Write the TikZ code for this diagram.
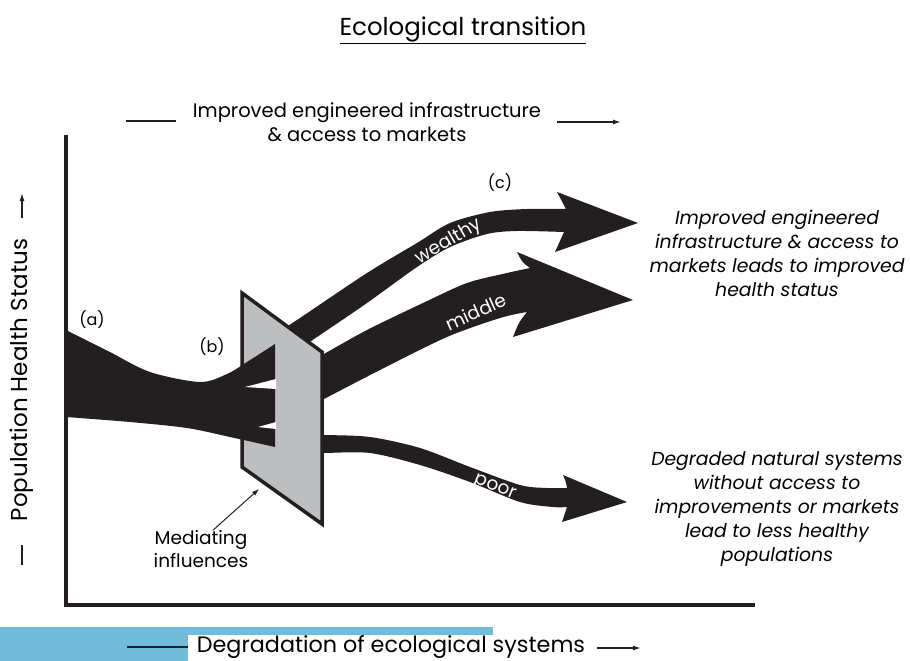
\documentclass[tikz,border=0pt]{standalone}
\usepackage{fontspec}
\setmainfont{Poppins}
\usetikzlibrary{arrows.meta}
\definecolor{flowblack}{HTML}{231F20}
\definecolor{panelgray}{HTML}{BCBEC0}
\definecolor{barblue}{HTML}{72BCDB}
\begin{document}
\begin{tikzpicture}[x=1pt,y=-1pt,
  flow/.style={fill=flowblack},
  axisline/.style={draw=flowblack,line width=3.5pt,line join=miter},
  tickline/.style={draw=flowblack,line width=1.4pt},
  axisarrow/.style={draw=flowblack,line width=1.4pt,-{Latex[length=8pt,width=5pt]}},
  flowlabel/.style={text=white,font=\fontsize{18.5}{18.5}\selectfont,inner sep=0pt},
  axislabel/.style={font=\fontsize{19.5}{24}\selectfont,align=center,inner sep=0pt},
  sidenote/.style={font=\fontsize{18.8}{24}\selectfont\itshape,align=center,inner sep=0pt},
  tag/.style={font=\fontsize{16}{16}\selectfont,inner sep=0pt}]
  \useasboundingbox (0,0) rectangle (910,661);

  % bottom colour bar
  \fill[barblue] (0,627) rectangle (493,661);
  \fill[white] (188,635) rectangle (493,661);

  % flows leaving the panel (drawn first, the panel hides their start)
  \fill[flow] plot[smooth] coordinates {(280,331) (300,318) (367,273) (417,243) (450,223) (490,212) (527,209) (566,209)}
    .. controls (562,201) .. (557,192) -- (638,223) -- (555,252) .. controls (560,242) .. (564,232)
    -- plot[smooth] coordinates {(564,232) (517,231) (487,234) (450,247) (417,267) (367,303) (320,335) (280,362)} -- cycle;
  \fill[flow] plot[smooth] coordinates {(300,366) (322,355) (367,330) (423,303) (467,283) (507,273) (530,268)}
    .. controls (522,262) .. (517,252) -- (633,300) -- (513,337) .. controls (519,322) .. (527,312)
    -- plot[smooth] coordinates {(527,312) (500,318) (447,337) (380,370) (322,400) (300,411)} -- cycle;
  \fill[flow] plot[smooth] coordinates {(300,435) (323,435) (370,437) (420,448) (470,467) (520,485) (547,488) (567,488)}
    .. controls (566,482) .. (563,475) -- (627,502) -- (562,522) .. controls (565,515) .. (567,507)
    -- plot[smooth] coordinates {(567,507) (553,507) (520,502) (470,482) (420,465) (370,453) (323,453) (300,453)} -- cycle;

  % mediating panel
  \coordinate (pTL) at (242,293);
  \coordinate (pTR) at (322,352);
  \coordinate (pBR) at (322,524);
  \coordinate (pBL) at (242,467);
  \filldraw[fill=panelgray,axisline] (pTL) -- (pTR) -- (pBR) -- (pBL) -- cycle;

  % incoming flow
  \fill[flow] plot[smooth] coordinates {(66,330) (108,351) (150,372) (200,382) (227,374) (247,362) (275,344)}
    -- plot[smooth] coordinates {(275,447) (230,437) (187,428) (130,422) (66,417)} -- cycle;
  \fill[white] (245,387) -- (276,379) -- (276,389) -- cycle;
  \fill[white] (258,427) -- (276,422) -- (276,429) -- cycle;

  % axes
  \coordinate (ytop) at (66,135);
  \coordinate (origin) at (66,605);
  \coordinate (xend) at (755,605);
  \draw[axisline] (ytop) -- (origin) -- (xend);

  % title and axis labels
  \node[font=\fontsize{24.5}{24.5}\selectfont,inner sep=0pt] (title) at (463,30) {\underline{Ecological transition}};
  \node[axislabel] (infra) at (367,122) {Improved engineered infrastructure\\\& access to markets};
  \coordinate (infraL1) at (126,121);
  \coordinate (infraL2) at (176,121);
  \coordinate (infraA1) at (557,122);
  \coordinate (infraA2) at (621,122);
  \draw[tickline] (infraL1) -- (infraL2);
  \draw[axisarrow] (infraA1) -- (infraA2);

  \node[font=\fontsize{23}{23}\selectfont,inner sep=0pt,rotate=90] (health) at (22,380) {Population Health Status};
  \coordinate (healthA1) at (22,218);
  \coordinate (healthA2) at (22,193);
  \coordinate (healthL1) at (22,545);
  \coordinate (healthL2) at (22,565);
  \draw[axisarrow] (healthA1) -- (healthA2);
  \draw[tickline] (healthL1) -- (healthL2);

  \node[font=\fontsize{22.3}{22.3}\selectfont,inner sep=0pt] (degr) at (391,647) {Degradation of ecological systems};
  \coordinate (degrL1) at (127,647);
  \coordinate (degrL2) at (188,647);
  \coordinate (degrA1) at (597,648);
  \coordinate (degrA2) at (641,648);
  \draw[tickline] (degrL1) -- (degrL2);
  \draw[axisarrow] (degrA1) -- (degrA2);

  % stage tags
  \node[tag] (tagA) at (92,320) {(a)};
  \node[tag] (tagB) at (212,347) {(b)};
  \node[tag] (tagC) at (500,183) {(c)};

  % flow labels
  \node[flowlabel,rotate=30] (wealthy) at (449,242) {wealthy};
  \node[flowlabel,rotate=24] (middle) at (476,312) {middle};
  \node[flowlabel,rotate=-22] (poor) at (495,488) {poor};

  % outcome notes
  \node[sidenote] (better) at (777,253) {Improved engineered\\infrastructure \& access to\\markets leads to improved\\health status};
  \node[sidenote] (worse) at (777,509) {Degraded natural systems\\without access to\\improvements or markets\\lead to less healthy\\populations};

  % mediating influences
  \node[axislabel,font=\fontsize{18.5}{23}\selectfont] (med) at (201,549) {Mediating\\influences};
  \coordinate (medtip) at (259,489);
  \draw[draw=flowblack,line width=1pt,-{Latex[length=7pt,width=5pt]}] ([xshift=12pt]med.north) -- (medtip);
\end{tikzpicture}
\end{document}
